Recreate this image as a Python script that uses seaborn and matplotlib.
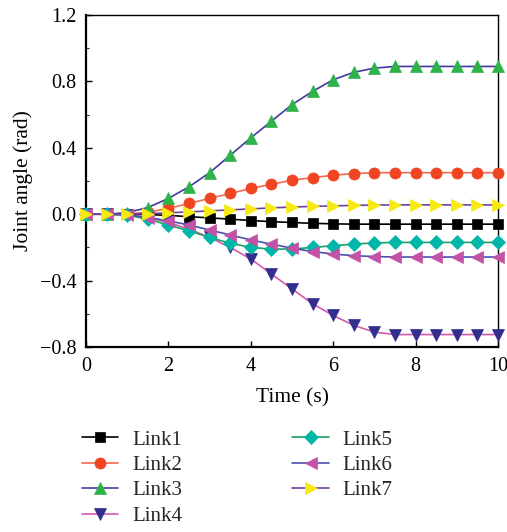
import matplotlib
matplotlib.use("Agg")
import matplotlib.pyplot as plt
import seaborn as sns
import numpy as np
import pandas as pd
from matplotlib.ticker import MultipleLocator

time = [0, 0.5, 1, 1.5, 2, 2.5, 3, 3.5, 4, 4.5, 5, 5.5, 6, 6.5, 7, 7.5, 8, 8.5, 9, 9.5, 10]

link1 = [0, 0, 0, -0.002, -0.007, -0.015, -0.022, -0.03, -0.038, -0.045, -0.05,
         -0.055, -0.058, -0.06, -0.06, -0.06, -0.06, -0.06, -0.06, -0.06, -0.06]
link2 = [0, 0, 0.002, 0.012, 0.035, 0.065, 0.095, 0.125, 0.155, 0.18, 0.205,
         0.22, 0.235, 0.245, 0.25, 0.25, 0.25, 0.25, 0.25, 0.25, 0.25]
link3 = [0, 0, 0.01, 0.04, 0.095, 0.165, 0.25, 0.355, 0.46, 0.56, 0.66,
         0.74, 0.81, 0.855, 0.88, 0.89, 0.89, 0.89, 0.89, 0.89, 0.89]
link4 = [0, 0, -0.005, -0.02, -0.05, -0.09, -0.14, -0.2, -0.27, -0.36, -0.45,
         -0.54, -0.61, -0.67, -0.71, -0.725, -0.725, -0.725, -0.725, -0.725, -0.725]
link5 = [0, 0, -0.005, -0.03, -0.065, -0.1, -0.14, -0.175, -0.2, -0.21, -0.21,
         -0.2, -0.19, -0.18, -0.173, -0.17, -0.17, -0.17, -0.17, -0.17, -0.17]
link6 = [0, 0, -0.003, -0.02, -0.04, -0.065, -0.095, -0.125, -0.155, -0.18, -0.205,
         -0.225, -0.24, -0.25, -0.255, -0.258, -0.258, -0.258, -0.258, -0.258, -0.258]
link7 = [0, 0, 0, 0.003, 0.008, 0.014, 0.02, 0.026, 0.032, 0.038, 0.043,
         0.047, 0.05, 0.053, 0.055, 0.056, 0.056, 0.056, 0.056, 0.056, 0.056]

names = ["Link1", "Link2", "Link3", "Link4", "Link5", "Link6", "Link7"]
series = [link1, link2, link3, link4, link5, link6, link7]
line_colors = ["#000000", "#f46a4e", "#4438a0", "#d25aae", "#1fa060", "#4a4fb0", "#7040a0"]
marker_colors = ["#000000", "#ef4523", "#2db34a", "#322e8e", "#00b6a8", "#c352a6", "#f7ea12"]
markers = ["s", "o", "^", "v", "D", "<", ">"]
marker_sizes = [7, 8, 8.5, 8.5, 7, 8.5, 8.5]

sns.set_theme(style="white")
plt.rcParams['font.family'] = ['Liberation Serif', 'DejaVu Serif']

fig = plt.figure(figsize=(5.07, 5.32), dpi=100)
ax = fig.add_axes([86 / 507, 1 - 347 / 532, (498 - 86) / 507, (347 - 15) / 532])

for name, vals, lc, mc, mk, ms in zip(names, series, line_colors, marker_colors, markers, marker_sizes):
    df = pd.DataFrame({"t": time, "v": vals})
    sns.lineplot(data=df, x="t", y="v", ax=ax, color=lc, linewidth=1.2,
                 marker=mk, markersize=ms, markerfacecolor=mc, markeredgecolor=mc,
                 markeredgewidth=0.5, label=name, clip_on=False, zorder=3)

ax.set_xlim(0, 10)
ax.set_ylim(-0.8, 1.2)
ax.xaxis.set_major_locator(MultipleLocator(2))
ax.yaxis.set_minor_locator(MultipleLocator(0.2))
ax.set_yticks([-0.8, -0.4, 0.0, 0.4, 0.8, 1.2])
ax.set_yticklabels(["\u22120.8", "\u22120.4", "0.0", "0.4", "0.8", "1.2"])
ax.tick_params(axis="both", which="major", direction="in", length=4, width=1.0,
               labelsize=14.5, color="black", labelcolor="black")
ax.tick_params(axis="x", which="major", pad=7)
ax.tick_params(axis="y", which="major", pad=7)
ax.tick_params(axis="y", which="minor", direction="in", length=2.5, width=0.8, left=True)
ax.tick_params(axis="x", which="both", top=False, bottom=True)
ax.tick_params(axis="y", which="both", right=False, left=True)

ax.set_xlabel("Time (s)", fontsize=15.5, color="black", labelpad=9)
ax.set_ylabel("Joint angle (rad)", fontsize=15.5, color="black", labelpad=5)

for side in ["left", "bottom"]:
    ax.spines[side].set_linewidth(1.6)
    ax.spines[side].set_color("black")
for side in ["top", "right"]:
    ax.spines[side].set_linewidth(1.0)
    ax.spines[side].set_color("black")

handles, labels = ax.get_legend_handles_labels()
ax.get_legend().remove()
fig.legend(handles, labels, ncol=2, loc="upper left",
           bbox_to_anchor=(82 / 507, 1 - 430 / 532), frameon=False,
           fontsize=15, handlelength=1.75, handletextpad=0.65,
           columnspacing=5.3, labelspacing=0.28, borderaxespad=0, borderpad=0)

fig.savefig("out.png", dpi=100)
